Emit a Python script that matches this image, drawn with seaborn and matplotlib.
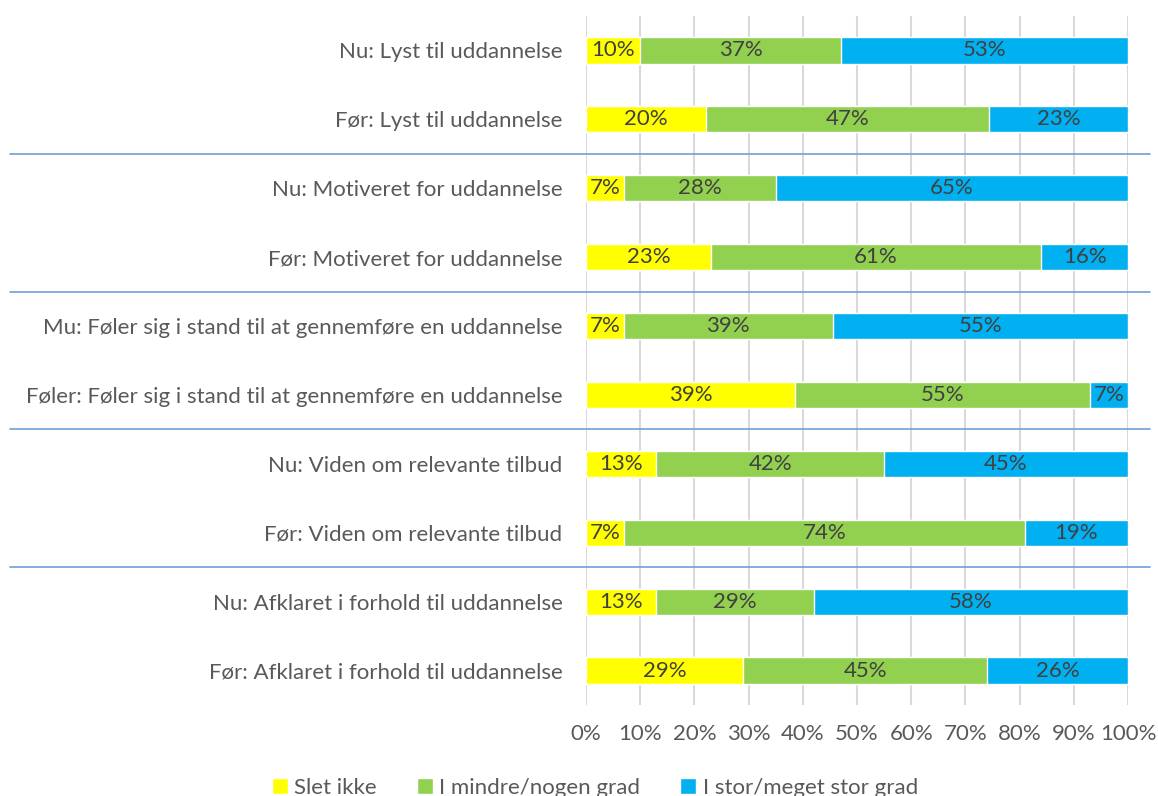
import numpy as np
import pandas as pd
import matplotlib
matplotlib.use('Agg')
import matplotlib.pyplot as plt
import seaborn as sns
from matplotlib.patches import Patch

categories = [
    'Nu: Lyst til uddannelse',
    'Før: Lyst til uddannelse',
    'Nu: Motiveret for uddannelse',
    'Før: Motiveret for uddannelse',
    'Mu: Føler sig i stand til at gennemføre en uddannelse',
    'Føler: Føler sig i stand til at gennemføre en uddannelse',
    'Nu: Viden om relevante tilbud',
    'Før: Viden om relevante tilbud',
    'Nu: Afklaret i forhold til uddannelse',
    'Før: Afklaret i forhold til uddannelse',
]
slet_ikke = [10, 20, 7, 23, 7, 39, 13, 7, 13, 29]
mindre = [37, 47, 28, 61, 39, 55, 42, 74, 29, 45]
stor = [53, 23, 65, 16, 55, 7, 45, 19, 58, 26]
series = ['Slet ikke', 'I mindre/nogen grad', 'I stor/meget stor grad']
colors = ['#FFFF00', '#92D050', '#00B0F0']

sns.set_style('white')
plt.rcParams['font.family'] = ['Lato', 'DejaVu Sans']

df = pd.DataFrame({'cat': categories, series[0]: slet_ikke,
                   series[1]: mindre, series[2]: stor})
raw = df[series].to_numpy(dtype=float)
share = raw / raw.sum(axis=1, keepdims=True) * 100  # 100% stacked
cum = np.cumsum(share, axis=1)

fig = plt.figure(figsize=(11.58, 7.96), dpi=100)
ax = fig.add_axes([586 / 1158, 1 - 705 / 796, 542 / 1158, 689 / 796])

# draw from the back: full bar first, then shorter cumulative bars over it
for i in [2, 1, 0]:
    d = pd.DataFrame({'cat': categories, 'val': cum[:, i]})
    sns.barplot(data=d, x='val', y='cat', orient='h', color=colors[i],
                width=0.38, saturation=1, ax=ax, zorder=3)

fs = 16
txt = '#404040'
for r in range(len(categories)):
    start = 0
    for i in range(3):
        ax.text(start + share[r, i] / 2, r, f'{int(raw[r, i])}%', ha='center',
                va='center', fontsize=fs, color=txt, zorder=5)
        start += share[r, i]

ax.set_xlim(0, 100)
ax.set_ylim(9.5, -0.5)
ax.set_xticks(np.arange(0, 101, 10))
ax.set_xticklabels([f'{v}%' for v in range(0, 101, 10)])
ax.xaxis.grid(True, color='#d9d9d9', lw=1.5, zorder=0)
ax.set_axisbelow(True)
for s in ax.spines.values():
    s.set_visible(False)
ax.set_xlabel('')
ax.set_ylabel('')
ax.tick_params(axis='x', length=0, pad=14, labelsize=fs, labelcolor='#595959')
ax.tick_params(axis='y', length=0, pad=17, labelsize=fs, labelcolor='#595959')

# group separators
for yy in [1.5, 3.5, 5.5, 7.5]:
    ax.plot([-106.3, 104.1], [yy, yy], color='#6f9fd8', lw=1.2,
            clip_on=False, zorder=1)

handles = [Patch(facecolor=c, label=s) for c, s in zip(colors, series)]
fig.legend(handles=handles, loc='center', bbox_to_anchor=(595 / 1158, 1 - 788 / 796),
           ncol=3, frameon=False, fontsize=fs, handlelength=0.7, handleheight=0.7,
           handletextpad=0.3, columnspacing=1.8, labelcolor='#595959')

fig.savefig('out.png', dpi=100)
